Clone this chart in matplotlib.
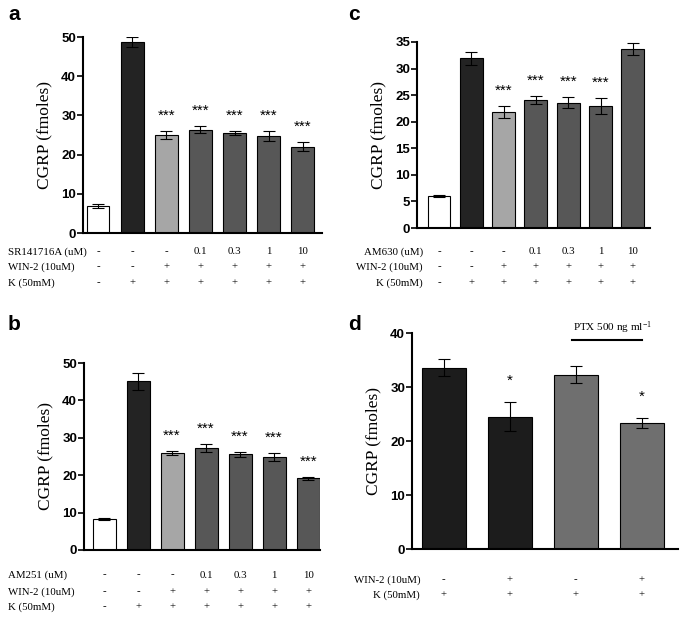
import matplotlib
matplotlib.use("Agg")
import matplotlib.pyplot as plt
import matplotlib.transforms as mtransforms

plt.rcParams["mathtext.fontset"] = "custom"
plt.rcParams["mathtext.rm"] = "Liberation Serif"
plt.rcParams["mathtext.it"] = "Liberation Serif:italic"

# ---------------- data ----------------
a_vals = [6.8, 48.7, 25.0, 26.4, 25.4, 24.8, 22.0]
a_err = [0.5, 1.2, 1.0, 0.9, 0.5, 1.3, 1.1]
a_sig = ["", "", "***", "***", "***", "***", "***"]
a_row1 = ["-", "-", "-", "0.1", "0.3", "1", "10"]
a_row2 = ["-", "-", "+", "+", "+", "+", "+"]
a_row3 = ["-", "+", "+", "+", "+", "+", "+"]
a_labels = ["SR141716A (uM)", "WIN-2 (10uM)", "K (50mM)"]

b_vals = [8.2, 45.1, 25.9, 27.2, 25.6, 24.9, 19.2]
b_err = [0.3, 2.3, 0.5, 1.1, 0.7, 1.0, 0.4]
b_sig = ["", "", "***", "***", "***", "***", "***"]
b_row1 = ["-", "-", "-", "0.1", "0.3", "1", "10"]
b_row2 = ["-", "-", "+", "+", "+", "+", "+"]
b_row3 = ["-", "+", "+", "+", "+", "+", "+"]
b_labels = ["AM251 (uM)", "WIN-2 (10uM)", "K (50mM)"]

c_vals = [6.1, 31.9, 21.8, 24.1, 23.6, 22.9, 33.7]
c_err = [0.2, 1.2, 1.1, 0.7, 1.1, 1.5, 1.1]
c_sig = ["", "", "***", "***", "***", "***", ""]
c_row1 = ["-", "-", "-", "0.1", "0.3", "1", "10"]
c_row2 = ["-", "-", "+", "+", "+", "+", "+"]
c_row3 = ["-", "+", "+", "+", "+", "+", "+"]
c_labels = ["AM630 (uM)", "WIN-2 (10uM)", "K (50mM)"]

d_vals = [33.6, 24.5, 32.3, 23.4]
d_err = [1.5, 2.7, 1.5, 0.9]
d_sig = ["", "*", "", "*"]
d_row1 = ["-", "+", "-", "+"]
d_row2 = ["+", "+", "+", "+"]
d_labels = ["WIN-2 (10uM)", "K (50mM)"]

col7 = ["white", "#232323", "#a6a6a6", "#575757", "#575757", "#575757", "#575757"]
col4 = ["#1c1c1c", "#1c1c1c", "#6f6f6f", "#6f6f6f"]

W, H = 687, 621
fig = plt.figure(figsize=(W / 100, H / 100), dpi=100)

SANS = "Liberation Sans"
SERIF = "Liberation Serif"
TFS = 7.8


def make_ax(left, right, top, bottom):
    return fig.add_axes([left / W, 1 - bottom / H, (right - left) / W, (bottom - top) / H])


def draw_panel(ax, vals, errs, sig, colors, width, xlim, ylim, yticks, sig_off):
    x = list(range(len(vals)))
    ax.bar(x, vals, width=width, color=colors, edgecolor="black", linewidth=0.8, zorder=2)
    ax.errorbar(x, vals, yerr=errs, fmt="none", ecolor="black", elinewidth=0.8,
                capsize=4.5, capthick=0.8, zorder=3)
    for xi, v, e, s in zip(x, vals, errs, sig):
        if s:
            ax.annotate(s, (xi, v + e), xytext=(0, sig_off), textcoords="offset points",
                        ha="center", va="bottom", fontsize=11, fontfamily=SANS)
    ax.set_xlim(*xlim)
    ax.set_ylim(*ylim)
    ax.set_yticks(yticks)
    ax.set_xticks([])
    for s in ["top", "right"]:
        ax.spines[s].set_visible(False)
    ax.spines["left"].set_linewidth(1.5)
    ax.spines["bottom"].set_linewidth(1.5)
    ax.tick_params(axis="y", length=4, width=1.2, labelsize=9.5, pad=1)
    for lab in ax.get_yticklabels():
        lab.set_fontfamily(SANS)
        lab.set_fontweight("bold")
    ax.set_ylabel("CGRP (fmoles)", fontfamily=SERIF, fontsize=12.5, labelpad=6)


def draw_table(ax, rows, labels, ys_px, label_x_px, ha):
    trans = mtransforms.blended_transform_factory(ax.transData, fig.transFigure)
    for row, lab, ypx in zip(rows, labels, ys_px):
        yf = 1 - ypx / H
        fig.text(label_x_px / W, yf, lab, ha=ha, va="center", fontfamily=SERIF, fontsize=TFS)
        for xi, t in enumerate(row):
            ax.text(xi, yf, t, transform=trans, ha="center", va="center",
                    fontfamily=SERIF, fontsize=TFS)


# panel a
ax_a = make_ax(83, 322, 37, 233)
draw_panel(ax_a, a_vals, a_err, a_sig, col7, 0.67, (-0.44, 6.56), (0, 50),
           [0, 10, 20, 30, 40, 50], 6)
draw_table(ax_a, [a_row1, a_row2, a_row3], a_labels, [252, 267, 283], 8, "left")

# panel b
ax_b = make_ax(84, 320, 363, 550)
draw_panel(ax_b, b_vals, b_err, b_sig, col7, 0.68, (-0.59, 6.35), (0, 50),
           [0, 10, 20, 30, 40, 50], 6)
draw_table(ax_b, [b_row1, b_row2, b_row3], b_labels, [575, 592, 607], 8, "left")

# panel c
ax_c = make_ax(417, 650, 42, 228)
draw_panel(ax_c, c_vals, c_err, c_sig, col7, 0.71, (-0.68, 6.53), (0, 35),
           [0, 5, 10, 15, 20, 25, 30, 35], 6)
draw_table(ax_c, [c_row1, c_row2, c_row3], c_labels, [252, 267, 283], 423, "right")

# panel d
ax_d = make_ax(412, 678, 333, 549)
draw_panel(ax_d, d_vals, d_err, d_sig, col4, 0.67, (-0.48, 3.55), (0, 40),
           [0, 10, 20, 30, 40], 10)
draw_table(ax_d, [d_row1, d_row2], d_labels, [580, 595], 420, "right")

# PTX bar in panel d
trans_d = mtransforms.blended_transform_factory(ax_d.transData, fig.transFigure)
ax_d.plot([1.95, 3.0], [1 - 340 / H, 1 - 340 / H], transform=trans_d, color="black",
          linewidth=1.5, clip_on=False)
ax_d.text(2.55, 1 - 328 / H, r"PTX 500 ng ml$^{\mathregular{-1}}$", transform=trans_d,
          ha="center", va="center", fontfamily=SERIF, fontsize=8)

# panel letters
for lx, ly, t in [(8, 14, "a"), (348, 14, "c"), (8, 325, "b"), (348, 325, "d")]:
    fig.text(lx / W, 1 - ly / H, t, ha="left", va="center", fontfamily=SANS,
             fontweight="bold", fontsize=15)

fig.savefig("out.png", dpi=100)
